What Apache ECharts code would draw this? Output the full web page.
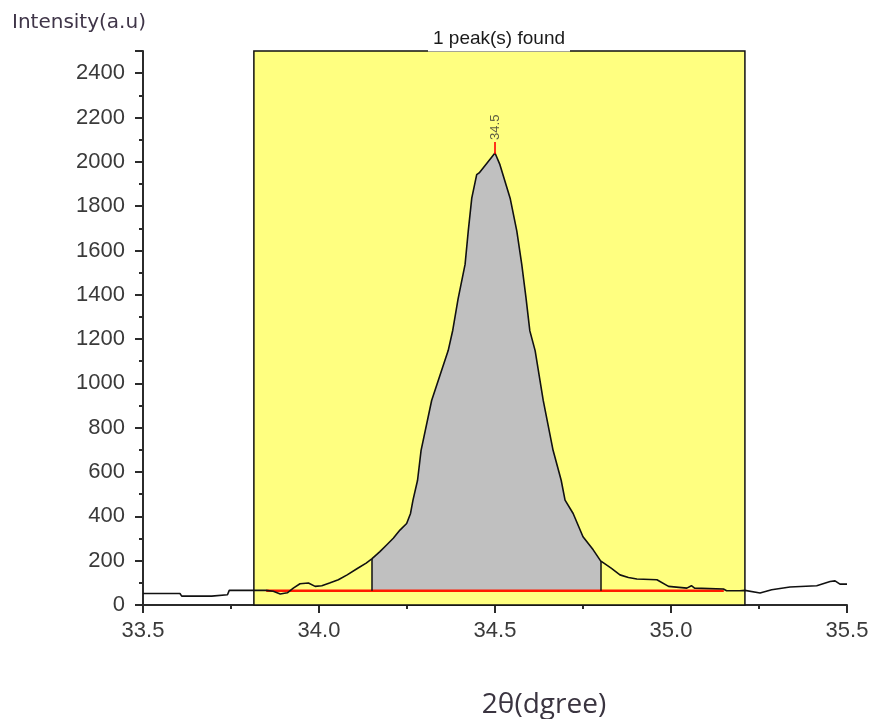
<!DOCTYPE html>
<html>
<head>
<meta charset="utf-8">
<script src="https://cdn.jsdelivr.net/npm/echarts@6/dist/echarts.min.js"></script>
<style>
  html, body { margin: 0; padding: 0; background: #fff; }
  #chart { width: 873px; height: 719px; }
</style>
</head>
<body>
<div id="chart"></div>
<script>
// Diffraction profile: 2θ (degrees) against intensity (a.u.)
const twoTheta = [
  33.50, 33.605, 33.61, 33.695, 33.70, 33.74, 33.745, 33.85, 33.87, 33.89,
  33.91, 33.927, 33.946, 33.97, 33.989, 34.008, 34.03, 34.055, 34.08, 34.11,
  34.134, 34.15, 34.173, 34.192, 34.211, 34.23, 34.249, 34.26, 34.267, 34.28,
  34.29, 34.32, 34.367, 34.38, 34.395, 34.415, 34.424, 34.434, 34.448, 34.455,
  34.50, 34.514, 34.543, 34.562, 34.576, 34.588, 34.599, 34.614, 34.637, 34.665,
  34.688, 34.699, 34.722, 34.75, 34.779, 34.80, 34.83, 34.855, 34.879, 34.903,
  34.96, 34.993, 35.045, 35.058, 35.067, 35.149, 35.158, 35.196, 35.21, 35.253,
  35.286, 35.338, 35.414, 35.452, 35.466, 35.48, 35.50
];
const intensity = [
  52, 52, 40, 40, 46, 46, 66, 66, 62, 50,
  55, 76, 96, 99, 84, 87, 99, 114, 136, 166,
  189, 208, 241, 271, 301, 338, 368, 413, 473, 563,
  698, 923, 1148, 1240, 1380, 1537, 1687, 1836, 1942, 1950,
  2040, 1987, 1836, 1687, 1537, 1387, 1237, 1148, 923, 698,
  563, 473, 413, 308, 249, 199, 166, 136, 124, 117,
  114, 84, 76, 87, 76, 72, 64, 64, 66, 54,
  69, 81, 87, 106, 109, 94, 94
];

// Peak-search window, fitted baseline and integration range
const searchWindow = [33.815, 35.21];
const baselineRange = [33.85, 35.15];
const baselineLevel = 64;
const integrationRange = [34.15, 34.80];
const peakPosition = [34.50];
const peakLabels = ['34.5'];

// Axis ranges and tick steps
const xRange = [33.5, 35.5];
const xStep = 0.5;
const yRange = [0, 2500];
const yStep = 200;

const titleText = '1 peak(s) found';
const yTitle = 'Intensity(a.u)';
const xTitle = '2θ(dgree)';

// Derived series
const profile = twoTheta.map((x, i) => [x, intensity[i]]);
const inRange = profile.filter(p => p[0] >= integrationRange[0] - 1e-9 && p[0] <= integrationRange[1] + 1e-9);
const areaOutline = [[integrationRange[0], baselineLevel]]
  .concat(inRange)
  .concat([[integrationRange[1], baselineLevel]]);
const edgeLeft = inRange[0];
const edgeRight = inRange[inRange.length - 1];
const peakIdx = twoTheta.indexOf(peakPosition[0]);
const peakPoint = [peakPosition[0], intensity[peakIdx]];

const axisColor = '#2b2b2b';
const labelColor = '#3a3a3a';

const chart = echarts.init(document.getElementById('chart'), null, { renderer: 'canvas' });

chart.setOption({
  animation: false,
  backgroundColor: '#ffffff',
  grid: { left: 143, right: 26, top: 51, bottom: 114 },
  xAxis: {
    type: 'value',
    min: xRange[0], max: xRange[1], interval: xStep,
    axisLine: { show: true, onZero: false, lineStyle: { color: axisColor, width: 2 } },
    axisTick: { show: true, inside: false, length: 8, lineStyle: { color: axisColor, width: 2 } },
    minorTick: { show: true, splitNumber: 2, length: 4, lineStyle: { color: axisColor, width: 2 } },
    splitLine: { show: false },
    axisLabel: {
      margin: 15, fontFamily: 'Liberation Sans', fontSize: 22, color: labelColor,
      formatter: v => v.toFixed(1)
    }
  },
  yAxis: {
    type: 'value',
    min: yRange[0], max: yRange[1], interval: yStep,
    axisLine: { show: true, onZero: false, lineStyle: { color: axisColor, width: 2 } },
    axisTick: { show: true, inside: false, length: 8, lineStyle: { color: axisColor, width: 2 } },
    minorTick: { show: true, splitNumber: 2, length: 4, lineStyle: { color: axisColor, width: 2 } },
    splitLine: { show: false },
    axisLabel: {
      margin: 18, fontFamily: 'Liberation Sans', fontSize: 22, color: labelColor,
      showMaxLabel: false,
      formatter: v => String(v)
    }
  },
  series: [
    {
      // search window
      type: 'line', data: [], silent: true, z: 1,
      markArea: {
        silent: true,
        itemStyle: { color: '#ffff80', borderColor: '#111', borderWidth: 1.5 },
        data: [[{ xAxis: searchWindow[0], yAxis: yRange[0] }, { xAxis: searchWindow[1], yAxis: yRange[1] }]]
      }
    },
    {
      // integrated peak area above the baseline
      type: 'custom', z: 2, silent: true,
      data: [[integrationRange[0], baselineLevel]],
      renderItem: (params, api) => ({
        type: 'polygon',
        shape: { points: areaOutline.map(p => api.coord(p)) },
        style: { fill: '#c0c0c0', stroke: null }
      })
    },
    {
      // integration limits
      type: 'line', data: [], z: 3,
      markLine: {
        silent: true, symbol: 'none', animation: false,
        label: { show: false },
        lineStyle: { color: '#111', width: 1.5, type: 'solid' },
        data: [
          [{ coord: [edgeLeft[0], baselineLevel] }, { coord: [edgeLeft[0], edgeLeft[1]] }],
          [{ coord: [edgeRight[0], baselineLevel] }, { coord: [edgeRight[0], edgeRight[1]] }]
        ]
      }
    },
    {
      // baseline
      type: 'line', z: 4, showSymbol: false,
      data: [[baselineRange[0], baselineLevel], [baselineRange[1], baselineLevel]],
      lineStyle: { color: '#ff1a00', width: 2.5 }
    },
    {
      // measured profile
      type: 'line', z: 5, showSymbol: false, data: profile,
      lineStyle: { color: '#111', width: 1.6 }
    },
    {
      // peak marker
      type: 'scatter', z: 6, data: [peakPoint],
      symbol: 'rect', symbolSize: [2, 12], symbolOffset: [0, -5],
      itemStyle: { color: '#ff0000' },
      label: {
        show: true, position: 'top', distance: 2, rotate: 90,
        align: 'left', verticalAlign: 'middle',
        formatter: () => peakLabels[0],
        fontFamily: 'Liberation Sans', fontSize: 13, color: '#333'
      }
    }
  ],
  graphic: [
    {
      type: 'text', x: 499, y: 39, z: 10,
      style: {
        text: titleText, align: 'center', verticalAlign: 'middle',
        fontFamily: 'Liberation Sans', fontSize: 19, fill: '#1a1a1a',
        backgroundColor: '#ffffff', padding: [3, 5]
      }
    },
    {
      type: 'text', x: 12, y: 23,
      style: {
        text: yTitle, align: 'left', verticalAlign: 'middle',
        fontFamily: 'DejaVu Sans', fontSize: 20, fill: '#3f3548'
      }
    },
    {
      type: 'text', x: 544, y: 705,
      style: {
        text: xTitle, align: 'center', verticalAlign: 'middle',
        fontFamily: 'Open Sans', fontSize: 28, fill: '#3a3440'
      }
    }
  ]
});
</script>
</body>
</html>
